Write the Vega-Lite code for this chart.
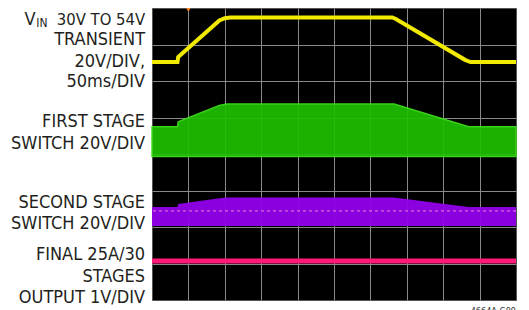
{
  "$schema": "https://vega.github.io/schema/vega-lite/v6.json",
  "width": 364,
  "height": 292,
  "autosize": {"type": "none"},
  "padding": {"left": 152, "top": 8, "right": 13, "bottom": 10},
  "background": "white",
  "config": {
    "view": {"fill": "black", "stroke": "#555", "strokeWidth": 1},
    "text": {"font": "Liberation Sans Narrow, DejaVu Sans Condensed, Roboto, sans-serif"}
  },
  "datasets": {
    "vin": [
      {"t": 0, "v": 6.52},
      {"t": 0.7, "v": 6.52},
      {"t": 0.72, "v": 6.66},
      {"t": 1.85, "v": 7.66},
      {"t": 2.0, "v": 7.72},
      {"t": 2.15, "v": 7.74},
      {"t": 6.6, "v": 7.74},
      {"t": 6.7, "v": 7.7},
      {"t": 8.6, "v": 6.58},
      {"t": 8.75, "v": 6.52},
      {"t": 10, "v": 6.52}
    ],
    "first": [
      {"t": 0, "top": 4.75, "bottom": 3.93},
      {"t": 0.7, "top": 4.75, "bottom": 3.93},
      {"t": 0.72, "top": 4.88, "bottom": 3.93},
      {"t": 1.85, "top": 5.33, "bottom": 3.93},
      {"t": 2.05, "top": 5.37, "bottom": 3.93},
      {"t": 6.65, "top": 5.37, "bottom": 3.93},
      {"t": 8.7, "top": 4.75, "bottom": 3.93},
      {"t": 10, "top": 4.75, "bottom": 3.93}
    ],
    "second": [
      {"t": 0, "top": 2.55, "bottom": 2.03},
      {"t": 0.7, "top": 2.55, "bottom": 2.03},
      {"t": 0.72, "top": 2.63, "bottom": 2.03},
      {"t": 1.85, "top": 2.79, "bottom": 2.03},
      {"t": 2.05, "top": 2.81, "bottom": 2.03},
      {"t": 6.65, "top": 2.81, "bottom": 2.03},
      {"t": 8.7, "top": 2.55, "bottom": 2.03},
      {"t": 10, "top": 2.55, "bottom": 2.03}
    ],
    "out": [
      {"t": 0, "v": 1.07},
      {"t": 10, "v": 1.07}
    ],
    "labels": [
      {"text": "TRANSIENT", "y": 6.986},
      {"text": "20V/DIV,", "y": 6.384},
      {"text": "50ms/DIV", "y": 5.836},
      {"text": "FIRST STAGE", "y": 4.74},
      {"text": "SWITCH 20V/DIV", "y": 4.137},
      {"text": "SECOND STAGE", "y": 2.521},
      {"text": "SWITCH 20V/DIV", "y": 1.945},
      {"text": "FINAL 25A/30", "y": 1.096},
      {"text": "STAGES", "y": 0.493},
      {"text": "OUTPUT 1V/DIV", "y": -0.082}
    ]
  },
  "layer": [
    {
      "data": {"name": "out"},
      "mark": {"type": "line", "color": "transparent"},
      "encoding": {
        "x": {"field": "t", "type": "quantitative", "scale": {"domain": [0, 10], "nice": false, "zero": false},
          "axis": {"values": [1, 2, 3, 4, 5, 6, 7, 8, 9], "grid": true, "gridColor": "#8a8a8a", "gridWidth": 1, "gridOpacity": 1, "labels": false, "ticks": false, "domain": false, "title": null}},
        "y": {"field": "v", "type": "quantitative", "scale": {"domain": [0, 8], "nice": false, "zero": false},
          "axis": {"values": [1, 2, 3, 4, 5, 6, 7], "grid": true, "gridColor": "#8a8a8a", "gridWidth": 1, "gridOpacity": 1, "labels": false, "ticks": false, "domain": false, "title": null}}
      }
    },
    {
      "data": {"name": "first"},
      "mark": {"type": "area", "color": "#1fbe00", "opacity": 0.93, "stroke": "#3de21a", "strokeWidth": 1.5},
      "encoding": {
        "x": {"field": "t", "type": "quantitative"},
        "y": {"field": "top", "type": "quantitative"},
        "y2": {"field": "bottom"}
      }
    },
    {
      "data": {"name": "second"},
      "mark": {"type": "area", "color": "#9200ea", "opacity": 0.95},
      "encoding": {
        "x": {"field": "t", "type": "quantitative"},
        "y": {"field": "top", "type": "quantitative"},
        "y2": {"field": "bottom"}
      }
    },
    {
      "data": {"values": [{"v": 2.44}]},
      "mark": {"type": "rule", "color": "#e48ad8", "strokeDash": [3, 3], "strokeWidth": 1},
      "encoding": {"y": {"field": "v", "type": "quantitative"}}
    },
    {
      "data": {"name": "vin"},
      "mark": {"type": "line", "color": "#f2ea00", "strokeWidth": 4},
      "encoding": {
        "x": {"field": "t", "type": "quantitative"},
        "y": {"field": "v", "type": "quantitative"}
      }
    },
    {
      "data": {"name": "out"},
      "mark": {"type": "line", "color": "#ff1a7a", "strokeWidth": 5},
      "encoding": {
        "x": {"field": "t", "type": "quantitative"},
        "y": {"field": "v", "type": "quantitative"}
      }
    },
    {
      "data": {"values": [{"t": 1, "v": 7.95}]},
      "mark": {"type": "point", "shape": "triangle-down", "filled": true, "color": "#ff8a1a", "size": 18, "opacity": 1},
      "encoding": {
        "x": {"field": "t", "type": "quantitative"},
        "y": {"field": "v", "type": "quantitative"}
      }
    },
    {
      "data": {"name": "labels"},
      "mark": {"type": "text", "align": "right", "baseline": "alphabetic", "fontSize": 18, "color": "#231f20"},
      "encoding": {
        "x": {"datum": -0.19, "type": "quantitative"},
        "y": {"field": "y", "type": "quantitative"},
        "text": {"field": "text"}
      }
    },
    {
      "data": {"values": [{"text": "30V TO 54V", "y": 7.534}]},
      "mark": {"type": "text", "align": "right", "baseline": "alphabetic", "fontSize": 16.5, "color": "#231f20"},
      "encoding": {
        "x": {"datum": -0.19, "type": "quantitative"},
        "y": {"field": "y", "type": "quantitative"},
        "text": {"field": "text"}
      }
    },
    {
      "data": {"values": [{"text": "V", "y": 7.534}]},
      "mark": {"type": "text", "align": "right", "baseline": "alphabetic", "fontSize": 18, "color": "#231f20"},
      "encoding": {
        "x": {"datum": -3.2, "type": "quantitative"},
        "y": {"field": "y", "type": "quantitative"},
        "text": {"field": "text"}
      }
    },
    {
      "data": {"values": [{"text": "IN", "y": 7.48}]},
      "mark": {"type": "text", "align": "right", "baseline": "alphabetic", "fontSize": 12, "color": "#231f20"},
      "encoding": {
        "x": {"datum": -2.87, "type": "quantitative"},
        "y": {"field": "y", "type": "quantitative"},
        "text": {"field": "text"}
      }
    },
    {
      "data": {"values": [{"text": "4664A G09"}]},
      "mark": {"type": "text", "align": "right", "baseline": "top", "fontSize": 9, "color": "#333"},
      "encoding": {
        "x": {"datum": 10, "type": "quantitative"},
        "y": {"datum": -0.19, "type": "quantitative"},
        "text": {"field": "text"}
      }
    }
  ]
}
